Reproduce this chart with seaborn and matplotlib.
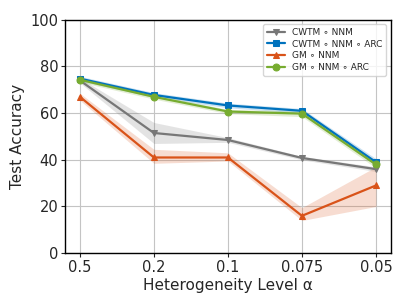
import numpy as np
import pandas as pd
import matplotlib
matplotlib.use("Agg")
import matplotlib.pyplot as plt
import seaborn as sns

# heterogeneity levels
alphas = ["0.5", "0.2", "0.1", "0.075", "0.05"]

cwtm_nnm = [74.0, 51.5, 48.5, 40.8, 36.0]
cwtm_nnm_lo = [73.0, 47.0, 47.5, 40.0, 35.0]
cwtm_nnm_hi = [75.0, 56.0, 49.5, 41.5, 37.0]

cwtm_arc = [74.8, 67.8, 63.3, 61.0, 39.0]
cwtm_arc_lo = [73.8, 66.8, 62.3, 60.0, 37.5]
cwtm_arc_hi = [75.8, 68.8, 64.3, 62.0, 40.5]

gm_nnm = [67.0, 41.0, 41.0, 16.0, 29.0]
gm_nnm_lo = [65.5, 38.5, 39.5, 14.0, 20.0]
gm_nnm_hi = [68.5, 44.5, 43.0, 19.5, 37.0]

gm_arc = [74.3, 67.0, 60.7, 59.8, 38.0]
gm_arc_lo = [73.3, 66.0, 59.8, 58.5, 36.5]
gm_arc_hi = [75.3, 68.0, 61.6, 61.0, 39.5]

series = [
    ("CWTM ∘ NNM", cwtm_nnm, cwtm_nnm_lo, cwtm_nnm_hi, "#777777", "v"),
    ("CWTM ∘ NNM ∘ ARC", cwtm_arc, cwtm_arc_lo, cwtm_arc_hi, "#0072BD", "s"),
    ("GM ∘ NNM", gm_nnm, gm_nnm_lo, gm_nnm_hi, "#D95319", "^"),
    ("GM ∘ NNM ∘ ARC", gm_arc, gm_arc_lo, gm_arc_hi, "#77AC30", "o"),
]

sns.set_style("whitegrid", {"axes.edgecolor": "black", "grid.color": "#c4c4c4"})
plt.rcParams['font.family'] = ['DejaVu Sans']

fig, ax = plt.subplots(figsize=(4.07, 3.05), dpi=100)
x = np.arange(len(alphas))

for name, y, lo, hi, c, m in series:
    df = pd.DataFrame({"x": x, "y": y})
    sns.lineplot(data=df, x="x", y="y", ax=ax, color=c, marker=m, markersize=5,
                 markeredgecolor=c, linewidth=1.6, label=name)
    ax.fill_between(x, lo, hi, color=c, alpha=0.2, linewidth=0)

ax.set_xticks(x)
ax.set_xticklabels(alphas)
ax.set_xlim(-0.2, 4.2)
ax.set_ylim(0, 100)
ax.set_yticks([0, 20, 40, 60, 80, 100])
ax.tick_params(labelsize=10.5, length=3, left=True, bottom=True, pad=2)
ax.set_xlabel("Heterogeneity Level α", fontsize=11, labelpad=2)
ax.set_ylabel("Test Accuracy", fontsize=11)
for s in ax.spines.values():
    s.set_color("black")
    s.set_linewidth(1.0)
ax.legend(loc="upper right", fontsize=6.5, handlelength=2.0, borderpad=0.4,
          labelspacing=0.3)

plt.subplots_adjust(left=0.16, right=0.96, top=0.935, bottom=0.17)
fig.savefig("out.png", dpi=100)
